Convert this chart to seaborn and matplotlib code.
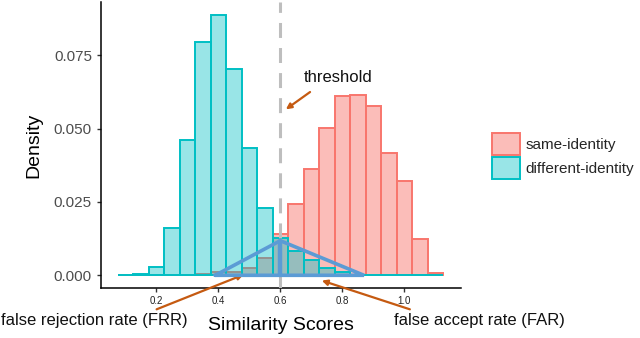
import numpy as np
import pandas as pd
import seaborn as sns
import matplotlib
matplotlib.use('Agg')
import matplotlib.pyplot as plt
from matplotlib.patches import Patch

# bin centres (width 0.05) and bar heights
bin_centers = [0.10, 0.15, 0.20, 0.25, 0.30, 0.35, 0.40, 0.45, 0.50, 0.55, 0.60,
               0.65, 0.70, 0.75, 0.80, 0.85, 0.90, 0.95, 1.00, 1.05, 1.10]
diff_identity = [0.0001, 0.0004, 0.0030, 0.0162, 0.0461, 0.0796, 0.0889, 0.0705,
                 0.0433, 0.0231, 0.0128, 0.0083, 0.0052, 0.0024, 0.0012, 0.0002,
                 0.0001, 0.0, 0.0, 0.0, 0.0]
same_identity = [0.0, 0.0, 0.0, 0.0, 0.0, 0.0003, 0.0010, 0.0010, 0.0024, 0.0059,
                 0.0142, 0.0242, 0.0362, 0.0502, 0.0610, 0.0615, 0.0577, 0.0418,
                 0.0320, 0.0124, 0.0008]
group_names = ['same-identity', 'different-identity']
x_ticks = [0.2, 0.4, 0.6, 0.8, 1.0]
y_ticks = [0.0, 0.025, 0.05, 0.075]
threshold = 0.6
# FRR / FAR sketch triangle
tri_x = [0.39, 0.6, 0.87, 0.39]
tri_y = [0.0, 0.0118, 0.0, 0.0]

sns.set_theme(style='white')
plt.rcParams['font.family'] = ['Liberation Sans', 'DejaVu Sans']

df = pd.DataFrame({
    'score': bin_centers * 2,
    'weight': same_identity + diff_identity,
    'group': [group_names[0]] * len(bin_centers) + [group_names[1]] * len(bin_centers),
})
edges = [round(0.075 + 0.05 * i, 3) for i in range(len(bin_centers) + 1)]
colors = {'same-identity': '#F8766D', 'different-identity': '#00BFC4'}
alphas = {'same-identity': 0.48, 'different-identity': 0.4}

fig = plt.figure(figsize=(6.4, 3.38), dpi=100)
ax = fig.add_axes([101 / 640, 1 - 288 / 338, 359.7 / 640, 286 / 338])

for g in group_names:
    sub = df[df['group'] == g]
    sns.histplot(data=sub, x='score', weights='weight', bins=edges, ax=ax,
                 color=colors[g], edgecolor=colors[g], alpha=alphas[g], linewidth=1.4,
                 element='bars')

ax.axvline(threshold, color='#BEBEBE', lw=2.2, linestyle=(0, (4.9, 3.3)), zorder=3)
ax.plot(tri_x, tri_y, color='#5B9BD5', lw=2.6, solid_joinstyle='miter', zorder=4)
ax.plot([threshold, threshold], [0, max(tri_y)], color='#5B9BD5', lw=3.2, zorder=4)

ax.set_xlim(0.0216, 1.182)
ax.set_ylim(-0.00433, 0.0932)
ax.set_xticks(x_ticks)
ax.set_xticklabels([f'{t:.1f}' for t in x_ticks], fontsize=7, color='#222222')
ax.set_yticks(y_ticks)
ax.set_yticklabels([f'{t:.3f}' for t in y_ticks], fontsize=11, color='#4D4D4D')
ax.tick_params(axis='both', which='major', length=3, width=1, color='#333333',
               bottom=True, left=True)
ax.tick_params(axis='x', pad=3)
ax.tick_params(axis='y', pad=3.5)
for s in ['top', 'right']:
    ax.spines[s].set_visible(False)
for s in ['left', 'bottom']:
    ax.spines[s].set_color('black')
    ax.spines[s].set_linewidth(1.1)

ax.set_xlabel('Similarity Scores', fontsize=14, color='black')
ax.set_ylabel('Density', fontsize=14, color='black')
ax.xaxis.set_label_coords(0.5, -0.103)
ax.yaxis.set_label_coords(-0.164, 0.5)

arrow = dict(arrowstyle='-|>', color='#C55A11', lw=1.6, mutation_scale=8,
             shrinkA=0, shrinkB=0)
ax.annotate('threshold', xy=(0.618, 0.0566), xytext=(0.786, 0.0673),
            ha='center', va='center', fontsize=12, color='#111111')
ax.annotate('', xy=(0.618, 0.0566), xytext=(0.696, 0.0625), arrowprops=arrow)
ax.annotate('', xy=(0.481, 0.0002), xytext=(0.201, -0.0116),
            arrowprops=arrow, annotation_clip=False)
ax.annotate('', xy=(0.734, -0.0018), xytext=(1.018, -0.0116),
            arrowprops=arrow, annotation_clip=False)
ax.text(0.0, -0.0155, 'false rejection rate (FRR)', ha='center', va='center',
        fontsize=12, color='#111111', clip_on=False)
ax.text(1.241, -0.0155, 'false accept rate (FAR)', ha='center', va='center',
        fontsize=12, color='#111111', clip_on=False)

handles = [Patch(facecolor=matplotlib.colors.to_rgba(colors[g], alphas[g]),
                 edgecolor=colors[g], linewidth=1.4) for g in group_names]
fig.legend(handles, group_names, loc='center left', bbox_to_anchor=(492 / 640, 1 - 156 / 338),
           frameon=False, fontsize=11, handlelength=1.8, handleheight=1.8,
           handletextpad=0.4, labelspacing=0.12, borderpad=0, borderaxespad=0)

fig.savefig('out.png', dpi=100)
